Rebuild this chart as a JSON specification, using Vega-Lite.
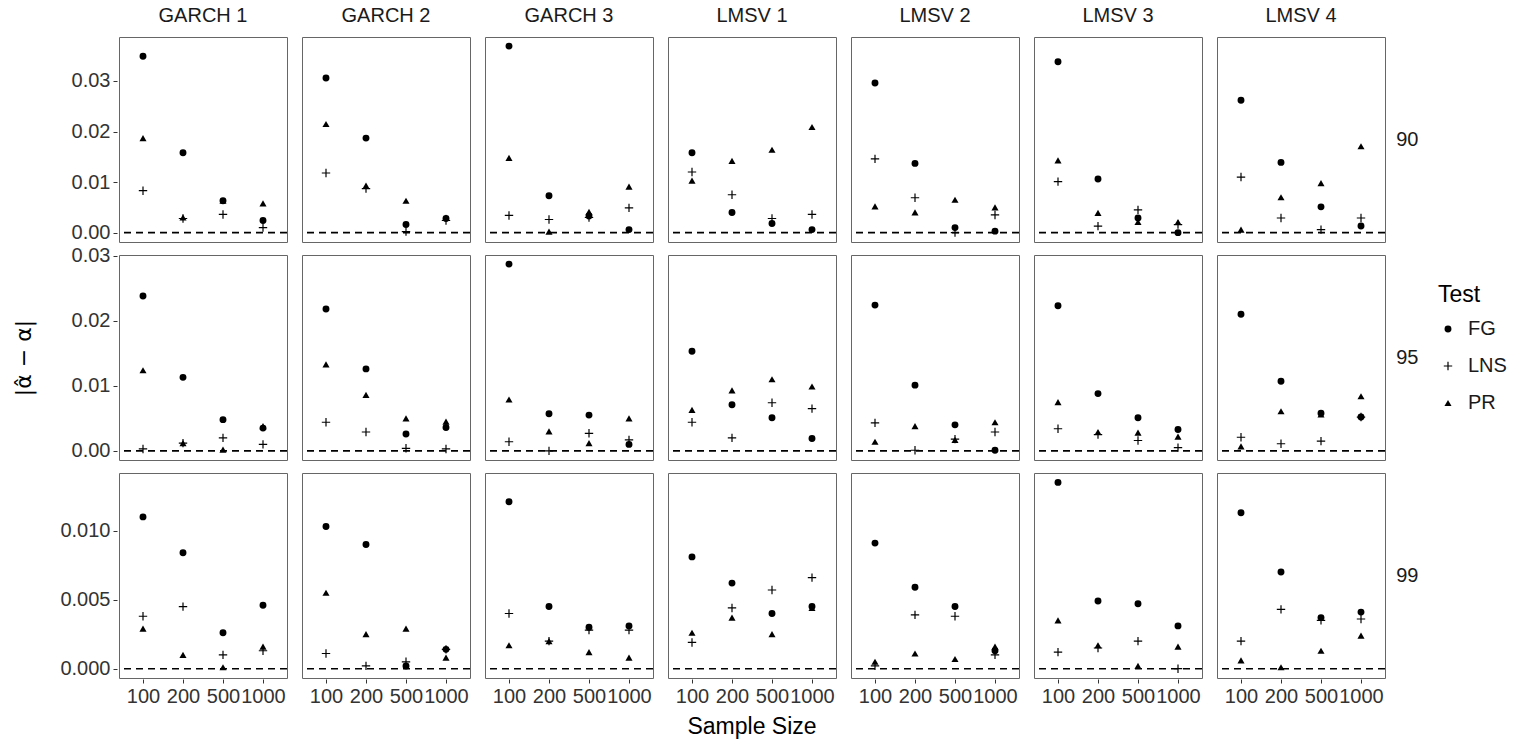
{
  "$schema": "https://vega.github.io/schema/vega-lite/v6.json",
  "padding": {"left": 12, "top": 6, "right": 4, "bottom": 4},
  "data": {
    "values": [
      {"level": "90", "model": "GARCH 1", "n": 100, "test": "FG", "value": 0.0349},
      {"level": "90", "model": "GARCH 1", "n": 200, "test": "FG", "value": 0.0158},
      {"level": "90", "model": "GARCH 1", "n": 500, "test": "FG", "value": 0.0063},
      {"level": "90", "model": "GARCH 1", "n": 1000, "test": "FG", "value": 0.0024},
      {"level": "90", "model": "GARCH 1", "n": 100, "test": "LNS", "value": 0.0083},
      {"level": "90", "model": "GARCH 1", "n": 200, "test": "LNS", "value": 0.0028},
      {"level": "90", "model": "GARCH 1", "n": 500, "test": "LNS", "value": 0.0036},
      {"level": "90", "model": "GARCH 1", "n": 1000, "test": "LNS", "value": 0.0010},
      {"level": "90", "model": "GARCH 1", "n": 100, "test": "PR", "value": 0.0187},
      {"level": "90", "model": "GARCH 1", "n": 200, "test": "PR", "value": 0.0030},
      {"level": "90", "model": "GARCH 1", "n": 500, "test": "PR", "value": 0.0063},
      {"level": "90", "model": "GARCH 1", "n": 1000, "test": "PR", "value": 0.0058},
      {"level": "90", "model": "GARCH 2", "n": 100, "test": "FG", "value": 0.0306},
      {"level": "90", "model": "GARCH 2", "n": 200, "test": "FG", "value": 0.0187},
      {"level": "90", "model": "GARCH 2", "n": 500, "test": "FG", "value": 0.0016},
      {"level": "90", "model": "GARCH 2", "n": 1000, "test": "FG", "value": 0.0028},
      {"level": "90", "model": "GARCH 2", "n": 100, "test": "LNS", "value": 0.0118},
      {"level": "90", "model": "GARCH 2", "n": 200, "test": "LNS", "value": 0.0087},
      {"level": "90", "model": "GARCH 2", "n": 500, "test": "LNS", "value": 0.0002},
      {"level": "90", "model": "GARCH 2", "n": 1000, "test": "LNS", "value": 0.0024},
      {"level": "90", "model": "GARCH 2", "n": 100, "test": "PR", "value": 0.0215},
      {"level": "90", "model": "GARCH 2", "n": 200, "test": "PR", "value": 0.0093},
      {"level": "90", "model": "GARCH 2", "n": 500, "test": "PR", "value": 0.0063},
      {"level": "90", "model": "GARCH 2", "n": 1000, "test": "PR", "value": 0.0030},
      {"level": "90", "model": "GARCH 3", "n": 100, "test": "FG", "value": 0.0369},
      {"level": "90", "model": "GARCH 3", "n": 200, "test": "FG", "value": 0.0073},
      {"level": "90", "model": "GARCH 3", "n": 500, "test": "FG", "value": 0.0033},
      {"level": "90", "model": "GARCH 3", "n": 1000, "test": "FG", "value": 0.0006},
      {"level": "90", "model": "GARCH 3", "n": 100, "test": "LNS", "value": 0.0034},
      {"level": "90", "model": "GARCH 3", "n": 200, "test": "LNS", "value": 0.0026},
      {"level": "90", "model": "GARCH 3", "n": 500, "test": "LNS", "value": 0.0030},
      {"level": "90", "model": "GARCH 3", "n": 1000, "test": "LNS", "value": 0.0049},
      {"level": "90", "model": "GARCH 3", "n": 100, "test": "PR", "value": 0.0148},
      {"level": "90", "model": "GARCH 3", "n": 200, "test": "PR", "value": 0.0002},
      {"level": "90", "model": "GARCH 3", "n": 500, "test": "PR", "value": 0.0041},
      {"level": "90", "model": "GARCH 3", "n": 1000, "test": "PR", "value": 0.0091},
      {"level": "90", "model": "LMSV 1", "n": 100, "test": "FG", "value": 0.0158},
      {"level": "90", "model": "LMSV 1", "n": 200, "test": "FG", "value": 0.0040},
      {"level": "90", "model": "LMSV 1", "n": 500, "test": "FG", "value": 0.0018},
      {"level": "90", "model": "LMSV 1", "n": 1000, "test": "FG", "value": 0.0006},
      {"level": "90", "model": "LMSV 1", "n": 100, "test": "LNS", "value": 0.0120},
      {"level": "90", "model": "LMSV 1", "n": 200, "test": "LNS", "value": 0.0075},
      {"level": "90", "model": "LMSV 1", "n": 500, "test": "LNS", "value": 0.0028},
      {"level": "90", "model": "LMSV 1", "n": 1000, "test": "LNS", "value": 0.0036},
      {"level": "90", "model": "LMSV 1", "n": 100, "test": "PR", "value": 0.0103},
      {"level": "90", "model": "LMSV 1", "n": 200, "test": "PR", "value": 0.0142},
      {"level": "90", "model": "LMSV 1", "n": 500, "test": "PR", "value": 0.0164},
      {"level": "90", "model": "LMSV 1", "n": 1000, "test": "PR", "value": 0.0209},
      {"level": "90", "model": "LMSV 2", "n": 100, "test": "FG", "value": 0.0296},
      {"level": "90", "model": "LMSV 2", "n": 200, "test": "FG", "value": 0.0137},
      {"level": "90", "model": "LMSV 2", "n": 500, "test": "FG", "value": 0.0010},
      {"level": "90", "model": "LMSV 2", "n": 1000, "test": "FG", "value": 0.0003},
      {"level": "90", "model": "LMSV 2", "n": 100, "test": "LNS", "value": 0.0146},
      {"level": "90", "model": "LMSV 2", "n": 200, "test": "LNS", "value": 0.0069},
      {"level": "90", "model": "LMSV 2", "n": 500, "test": "LNS", "value": 0.0000},
      {"level": "90", "model": "LMSV 2", "n": 1000, "test": "LNS", "value": 0.0035},
      {"level": "90", "model": "LMSV 2", "n": 100, "test": "PR", "value": 0.0052},
      {"level": "90", "model": "LMSV 2", "n": 200, "test": "PR", "value": 0.0040},
      {"level": "90", "model": "LMSV 2", "n": 500, "test": "PR", "value": 0.0065},
      {"level": "90", "model": "LMSV 2", "n": 1000, "test": "PR", "value": 0.0050},
      {"level": "90", "model": "LMSV 3", "n": 100, "test": "FG", "value": 0.0338},
      {"level": "90", "model": "LMSV 3", "n": 200, "test": "FG", "value": 0.0106},
      {"level": "90", "model": "LMSV 3", "n": 500, "test": "FG", "value": 0.0029},
      {"level": "90", "model": "LMSV 3", "n": 1000, "test": "FG", "value": 0.0000},
      {"level": "90", "model": "LMSV 3", "n": 100, "test": "LNS", "value": 0.0101},
      {"level": "90", "model": "LMSV 3", "n": 200, "test": "LNS", "value": 0.0013},
      {"level": "90", "model": "LMSV 3", "n": 500, "test": "LNS", "value": 0.0045},
      {"level": "90", "model": "LMSV 3", "n": 1000, "test": "LNS", "value": 0.0016},
      {"level": "90", "model": "LMSV 3", "n": 100, "test": "PR", "value": 0.0143},
      {"level": "90", "model": "LMSV 3", "n": 200, "test": "PR", "value": 0.0039},
      {"level": "90", "model": "LMSV 3", "n": 500, "test": "PR", "value": 0.0021},
      {"level": "90", "model": "LMSV 3", "n": 1000, "test": "PR", "value": 0.0021},
      {"level": "90", "model": "LMSV 4", "n": 100, "test": "FG", "value": 0.0262},
      {"level": "90", "model": "LMSV 4", "n": 200, "test": "FG", "value": 0.0139},
      {"level": "90", "model": "LMSV 4", "n": 500, "test": "FG", "value": 0.0051},
      {"level": "90", "model": "LMSV 4", "n": 1000, "test": "FG", "value": 0.0013},
      {"level": "90", "model": "LMSV 4", "n": 100, "test": "LNS", "value": 0.0110},
      {"level": "90", "model": "LMSV 4", "n": 200, "test": "LNS", "value": 0.0029},
      {"level": "90", "model": "LMSV 4", "n": 500, "test": "LNS", "value": 0.0006},
      {"level": "90", "model": "LMSV 4", "n": 1000, "test": "LNS", "value": 0.0029},
      {"level": "90", "model": "LMSV 4", "n": 100, "test": "PR", "value": 0.0006},
      {"level": "90", "model": "LMSV 4", "n": 200, "test": "PR", "value": 0.0070},
      {"level": "90", "model": "LMSV 4", "n": 500, "test": "PR", "value": 0.0098},
      {"level": "90", "model": "LMSV 4", "n": 1000, "test": "PR", "value": 0.0171},

      {"level": "95", "model": "GARCH 1", "n": 100, "test": "FG", "value": 0.0238},
      {"level": "95", "model": "GARCH 1", "n": 200, "test": "FG", "value": 0.0113},
      {"level": "95", "model": "GARCH 1", "n": 500, "test": "FG", "value": 0.0048},
      {"level": "95", "model": "GARCH 1", "n": 1000, "test": "FG", "value": 0.0035},
      {"level": "95", "model": "GARCH 1", "n": 100, "test": "LNS", "value": 0.0003},
      {"level": "95", "model": "GARCH 1", "n": 200, "test": "LNS", "value": 0.0012},
      {"level": "95", "model": "GARCH 1", "n": 500, "test": "LNS", "value": 0.0020},
      {"level": "95", "model": "GARCH 1", "n": 1000, "test": "LNS", "value": 0.0010},
      {"level": "95", "model": "GARCH 1", "n": 100, "test": "PR", "value": 0.0124},
      {"level": "95", "model": "GARCH 1", "n": 200, "test": "PR", "value": 0.0012},
      {"level": "95", "model": "GARCH 1", "n": 500, "test": "PR", "value": 0.0002},
      {"level": "95", "model": "GARCH 1", "n": 1000, "test": "PR", "value": 0.0038},
      {"level": "95", "model": "GARCH 2", "n": 100, "test": "FG", "value": 0.0218},
      {"level": "95", "model": "GARCH 2", "n": 200, "test": "FG", "value": 0.0126},
      {"level": "95", "model": "GARCH 2", "n": 500, "test": "FG", "value": 0.0026},
      {"level": "95", "model": "GARCH 2", "n": 1000, "test": "FG", "value": 0.0036},
      {"level": "95", "model": "GARCH 2", "n": 100, "test": "LNS", "value": 0.0044},
      {"level": "95", "model": "GARCH 2", "n": 200, "test": "LNS", "value": 0.0029},
      {"level": "95", "model": "GARCH 2", "n": 500, "test": "LNS", "value": 0.0004},
      {"level": "95", "model": "GARCH 2", "n": 1000, "test": "LNS", "value": 0.0003},
      {"level": "95", "model": "GARCH 2", "n": 100, "test": "PR", "value": 0.0133},
      {"level": "95", "model": "GARCH 2", "n": 200, "test": "PR", "value": 0.0086},
      {"level": "95", "model": "GARCH 2", "n": 500, "test": "PR", "value": 0.0050},
      {"level": "95", "model": "GARCH 2", "n": 1000, "test": "PR", "value": 0.0045},
      {"level": "95", "model": "GARCH 3", "n": 100, "test": "FG", "value": 0.0287},
      {"level": "95", "model": "GARCH 3", "n": 200, "test": "FG", "value": 0.0057},
      {"level": "95", "model": "GARCH 3", "n": 500, "test": "FG", "value": 0.0055},
      {"level": "95", "model": "GARCH 3", "n": 1000, "test": "FG", "value": 0.0010},
      {"level": "95", "model": "GARCH 3", "n": 100, "test": "LNS", "value": 0.0014},
      {"level": "95", "model": "GARCH 3", "n": 200, "test": "LNS", "value": 0.0000},
      {"level": "95", "model": "GARCH 3", "n": 500, "test": "LNS", "value": 0.0027},
      {"level": "95", "model": "GARCH 3", "n": 1000, "test": "LNS", "value": 0.0017},
      {"level": "95", "model": "GARCH 3", "n": 100, "test": "PR", "value": 0.0079},
      {"level": "95", "model": "GARCH 3", "n": 200, "test": "PR", "value": 0.0030},
      {"level": "95", "model": "GARCH 3", "n": 500, "test": "PR", "value": 0.0012},
      {"level": "95", "model": "GARCH 3", "n": 1000, "test": "PR", "value": 0.0050},
      {"level": "95", "model": "LMSV 1", "n": 100, "test": "FG", "value": 0.0153},
      {"level": "95", "model": "LMSV 1", "n": 200, "test": "FG", "value": 0.0071},
      {"level": "95", "model": "LMSV 1", "n": 500, "test": "FG", "value": 0.0051},
      {"level": "95", "model": "LMSV 1", "n": 1000, "test": "FG", "value": 0.0019},
      {"level": "95", "model": "LMSV 1", "n": 100, "test": "LNS", "value": 0.0044},
      {"level": "95", "model": "LMSV 1", "n": 200, "test": "LNS", "value": 0.0020},
      {"level": "95", "model": "LMSV 1", "n": 500, "test": "LNS", "value": 0.0074},
      {"level": "95", "model": "LMSV 1", "n": 1000, "test": "LNS", "value": 0.0065},
      {"level": "95", "model": "LMSV 1", "n": 100, "test": "PR", "value": 0.0063},
      {"level": "95", "model": "LMSV 1", "n": 200, "test": "PR", "value": 0.0093},
      {"level": "95", "model": "LMSV 1", "n": 500, "test": "PR", "value": 0.0110},
      {"level": "95", "model": "LMSV 1", "n": 1000, "test": "PR", "value": 0.0099},
      {"level": "95", "model": "LMSV 2", "n": 100, "test": "FG", "value": 0.0224},
      {"level": "95", "model": "LMSV 2", "n": 200, "test": "FG", "value": 0.0101},
      {"level": "95", "model": "LMSV 2", "n": 500, "test": "FG", "value": 0.0040},
      {"level": "95", "model": "LMSV 2", "n": 1000, "test": "FG", "value": 0.0001},
      {"level": "95", "model": "LMSV 2", "n": 100, "test": "LNS", "value": 0.0043},
      {"level": "95", "model": "LMSV 2", "n": 200, "test": "LNS", "value": 0.0001},
      {"level": "95", "model": "LMSV 2", "n": 500, "test": "LNS", "value": 0.0018},
      {"level": "95", "model": "LMSV 2", "n": 1000, "test": "LNS", "value": 0.0029},
      {"level": "95", "model": "LMSV 2", "n": 100, "test": "PR", "value": 0.0014},
      {"level": "95", "model": "LMSV 2", "n": 200, "test": "PR", "value": 0.0038},
      {"level": "95", "model": "LMSV 2", "n": 500, "test": "PR", "value": 0.0017},
      {"level": "95", "model": "LMSV 2", "n": 1000, "test": "PR", "value": 0.0044},
      {"level": "95", "model": "LMSV 3", "n": 100, "test": "FG", "value": 0.0223},
      {"level": "95", "model": "LMSV 3", "n": 200, "test": "FG", "value": 0.0088},
      {"level": "95", "model": "LMSV 3", "n": 500, "test": "FG", "value": 0.0051},
      {"level": "95", "model": "LMSV 3", "n": 1000, "test": "FG", "value": 0.0033},
      {"level": "95", "model": "LMSV 3", "n": 100, "test": "LNS", "value": 0.0034},
      {"level": "95", "model": "LMSV 3", "n": 200, "test": "LNS", "value": 0.0025},
      {"level": "95", "model": "LMSV 3", "n": 500, "test": "LNS", "value": 0.0016},
      {"level": "95", "model": "LMSV 3", "n": 1000, "test": "LNS", "value": 0.0005},
      {"level": "95", "model": "LMSV 3", "n": 100, "test": "PR", "value": 0.0075},
      {"level": "95", "model": "LMSV 3", "n": 200, "test": "PR", "value": 0.0029},
      {"level": "95", "model": "LMSV 3", "n": 500, "test": "PR", "value": 0.0028},
      {"level": "95", "model": "LMSV 3", "n": 1000, "test": "PR", "value": 0.0022},
      {"level": "95", "model": "LMSV 4", "n": 100, "test": "FG", "value": 0.0210},
      {"level": "95", "model": "LMSV 4", "n": 200, "test": "FG", "value": 0.0107},
      {"level": "95", "model": "LMSV 4", "n": 500, "test": "FG", "value": 0.0058},
      {"level": "95", "model": "LMSV 4", "n": 1000, "test": "FG", "value": 0.0052},
      {"level": "95", "model": "LMSV 4", "n": 100, "test": "LNS", "value": 0.0021},
      {"level": "95", "model": "LMSV 4", "n": 200, "test": "LNS", "value": 0.0011},
      {"level": "95", "model": "LMSV 4", "n": 500, "test": "LNS", "value": 0.0015},
      {"level": "95", "model": "LMSV 4", "n": 1000, "test": "LNS", "value": 0.0052},
      {"level": "95", "model": "LMSV 4", "n": 100, "test": "PR", "value": 0.0007},
      {"level": "95", "model": "LMSV 4", "n": 200, "test": "PR", "value": 0.0061},
      {"level": "95", "model": "LMSV 4", "n": 500, "test": "PR", "value": 0.0056},
      {"level": "95", "model": "LMSV 4", "n": 1000, "test": "PR", "value": 0.0084},

      {"level": "99", "model": "GARCH 1", "n": 100, "test": "FG", "value": 0.0110},
      {"level": "99", "model": "GARCH 1", "n": 200, "test": "FG", "value": 0.0084},
      {"level": "99", "model": "GARCH 1", "n": 500, "test": "FG", "value": 0.0026},
      {"level": "99", "model": "GARCH 1", "n": 1000, "test": "FG", "value": 0.0046},
      {"level": "99", "model": "GARCH 1", "n": 100, "test": "LNS", "value": 0.0038},
      {"level": "99", "model": "GARCH 1", "n": 200, "test": "LNS", "value": 0.0045},
      {"level": "99", "model": "GARCH 1", "n": 500, "test": "LNS", "value": 0.0010},
      {"level": "99", "model": "GARCH 1", "n": 1000, "test": "LNS", "value": 0.0013},
      {"level": "99", "model": "GARCH 1", "n": 100, "test": "PR", "value": 0.0029},
      {"level": "99", "model": "GARCH 1", "n": 200, "test": "PR", "value": 0.0010},
      {"level": "99", "model": "GARCH 1", "n": 500, "test": "PR", "value": 0.0001},
      {"level": "99", "model": "GARCH 1", "n": 1000, "test": "PR", "value": 0.0016},
      {"level": "99", "model": "GARCH 2", "n": 100, "test": "FG", "value": 0.0103},
      {"level": "99", "model": "GARCH 2", "n": 200, "test": "FG", "value": 0.0090},
      {"level": "99", "model": "GARCH 2", "n": 500, "test": "FG", "value": 0.0002},
      {"level": "99", "model": "GARCH 2", "n": 1000, "test": "FG", "value": 0.0014},
      {"level": "99", "model": "GARCH 2", "n": 100, "test": "LNS", "value": 0.0011},
      {"level": "99", "model": "GARCH 2", "n": 200, "test": "LNS", "value": 0.0002},
      {"level": "99", "model": "GARCH 2", "n": 500, "test": "LNS", "value": 0.0005},
      {"level": "99", "model": "GARCH 2", "n": 1000, "test": "LNS", "value": 0.0014},
      {"level": "99", "model": "GARCH 2", "n": 100, "test": "PR", "value": 0.0055},
      {"level": "99", "model": "GARCH 2", "n": 200, "test": "PR", "value": 0.0025},
      {"level": "99", "model": "GARCH 2", "n": 500, "test": "PR", "value": 0.0029},
      {"level": "99", "model": "GARCH 2", "n": 1000, "test": "PR", "value": 0.0008},
      {"level": "99", "model": "GARCH 3", "n": 100, "test": "FG", "value": 0.0121},
      {"level": "99", "model": "GARCH 3", "n": 200, "test": "FG", "value": 0.0045},
      {"level": "99", "model": "GARCH 3", "n": 500, "test": "FG", "value": 0.0030},
      {"level": "99", "model": "GARCH 3", "n": 1000, "test": "FG", "value": 0.0031},
      {"level": "99", "model": "GARCH 3", "n": 100, "test": "LNS", "value": 0.0040},
      {"level": "99", "model": "GARCH 3", "n": 200, "test": "LNS", "value": 0.0020},
      {"level": "99", "model": "GARCH 3", "n": 500, "test": "LNS", "value": 0.0028},
      {"level": "99", "model": "GARCH 3", "n": 1000, "test": "LNS", "value": 0.0028},
      {"level": "99", "model": "GARCH 3", "n": 100, "test": "PR", "value": 0.0017},
      {"level": "99", "model": "GARCH 3", "n": 200, "test": "PR", "value": 0.0020},
      {"level": "99", "model": "GARCH 3", "n": 500, "test": "PR", "value": 0.0012},
      {"level": "99", "model": "GARCH 3", "n": 1000, "test": "PR", "value": 0.0008},
      {"level": "99", "model": "LMSV 1", "n": 100, "test": "FG", "value": 0.0081},
      {"level": "99", "model": "LMSV 1", "n": 200, "test": "FG", "value": 0.0062},
      {"level": "99", "model": "LMSV 1", "n": 500, "test": "FG", "value": 0.0040},
      {"level": "99", "model": "LMSV 1", "n": 1000, "test": "FG", "value": 0.0045},
      {"level": "99", "model": "LMSV 1", "n": 100, "test": "LNS", "value": 0.0019},
      {"level": "99", "model": "LMSV 1", "n": 200, "test": "LNS", "value": 0.0044},
      {"level": "99", "model": "LMSV 1", "n": 500, "test": "LNS", "value": 0.0057},
      {"level": "99", "model": "LMSV 1", "n": 1000, "test": "LNS", "value": 0.0066},
      {"level": "99", "model": "LMSV 1", "n": 100, "test": "PR", "value": 0.0026},
      {"level": "99", "model": "LMSV 1", "n": 200, "test": "PR", "value": 0.0037},
      {"level": "99", "model": "LMSV 1", "n": 500, "test": "PR", "value": 0.0025},
      {"level": "99", "model": "LMSV 1", "n": 1000, "test": "PR", "value": 0.0044},
      {"level": "99", "model": "LMSV 2", "n": 100, "test": "FG", "value": 0.0091},
      {"level": "99", "model": "LMSV 2", "n": 200, "test": "FG", "value": 0.0059},
      {"level": "99", "model": "LMSV 2", "n": 500, "test": "FG", "value": 0.0045},
      {"level": "99", "model": "LMSV 2", "n": 1000, "test": "FG", "value": 0.0013},
      {"level": "99", "model": "LMSV 2", "n": 100, "test": "LNS", "value": 0.0002},
      {"level": "99", "model": "LMSV 2", "n": 200, "test": "LNS", "value": 0.0039},
      {"level": "99", "model": "LMSV 2", "n": 500, "test": "LNS", "value": 0.0038},
      {"level": "99", "model": "LMSV 2", "n": 1000, "test": "LNS", "value": 0.0010},
      {"level": "99", "model": "LMSV 2", "n": 100, "test": "PR", "value": 0.0005},
      {"level": "99", "model": "LMSV 2", "n": 200, "test": "PR", "value": 0.0011},
      {"level": "99", "model": "LMSV 2", "n": 500, "test": "PR", "value": 0.0007},
      {"level": "99", "model": "LMSV 2", "n": 1000, "test": "PR", "value": 0.0016},
      {"level": "99", "model": "LMSV 3", "n": 100, "test": "FG", "value": 0.0135},
      {"level": "99", "model": "LMSV 3", "n": 200, "test": "FG", "value": 0.0049},
      {"level": "99", "model": "LMSV 3", "n": 500, "test": "FG", "value": 0.0047},
      {"level": "99", "model": "LMSV 3", "n": 1000, "test": "FG", "value": 0.0031},
      {"level": "99", "model": "LMSV 3", "n": 100, "test": "LNS", "value": 0.0012},
      {"level": "99", "model": "LMSV 3", "n": 200, "test": "LNS", "value": 0.0015},
      {"level": "99", "model": "LMSV 3", "n": 500, "test": "LNS", "value": 0.0020},
      {"level": "99", "model": "LMSV 3", "n": 1000, "test": "LNS", "value": 0.0000},
      {"level": "99", "model": "LMSV 3", "n": 100, "test": "PR", "value": 0.0035},
      {"level": "99", "model": "LMSV 3", "n": 200, "test": "PR", "value": 0.0017},
      {"level": "99", "model": "LMSV 3", "n": 500, "test": "PR", "value": 0.0002},
      {"level": "99", "model": "LMSV 3", "n": 1000, "test": "PR", "value": 0.0016},
      {"level": "99", "model": "LMSV 4", "n": 100, "test": "FG", "value": 0.0113},
      {"level": "99", "model": "LMSV 4", "n": 200, "test": "FG", "value": 0.0070},
      {"level": "99", "model": "LMSV 4", "n": 500, "test": "FG", "value": 0.0037},
      {"level": "99", "model": "LMSV 4", "n": 1000, "test": "FG", "value": 0.0041},
      {"level": "99", "model": "LMSV 4", "n": 100, "test": "LNS", "value": 0.0020},
      {"level": "99", "model": "LMSV 4", "n": 200, "test": "LNS", "value": 0.0043},
      {"level": "99", "model": "LMSV 4", "n": 500, "test": "LNS", "value": 0.0035},
      {"level": "99", "model": "LMSV 4", "n": 1000, "test": "LNS", "value": 0.0036},
      {"level": "99", "model": "LMSV 4", "n": 100, "test": "PR", "value": 0.0006},
      {"level": "99", "model": "LMSV 4", "n": 200, "test": "PR", "value": 0.0001},
      {"level": "99", "model": "LMSV 4", "n": 500, "test": "PR", "value": 0.0013},
      {"level": "99", "model": "LMSV 4", "n": 1000, "test": "PR", "value": 0.0024}
    ]
  },
  "spacing": 2,
  "vconcat": [
    {
      "transform": [{"filter": "datum.level == '90'"}],
      "facet": {
        "row": {"field": "level", "type": "nominal", "title": null,
          "header": {"labelOrient": "right", "labelAngle": 0, "labelAlign": "left", "labelFontSize": 20, "labelPadding": -13, "labelColor": "#1a1a1a"}},
        "column": {"field": "model", "type": "nominal", "title": null,
          "header": {"labelFontSize": 20, "labelPadding": 10, "labelColor": "#1a1a1a"}}
      },
      "spacing": {"row": 14, "column": 11},
      "spec": {
        "width": 168,
        "height": 205,
        "layer": [
          {
            "mark": {"type": "point", "filled": true, "color": "black", "opacity": 1},
            "encoding": {
              "x": {"field": "n", "type": "ordinal", "scale": {"type": "point", "padding": 0.6}, "axis": null},
              "y": {"field": "value", "type": "quantitative",
                "scale": {"domain": [-0.00185, 0.0387], "nice": false, "zero": false},
                "axis": {"values": [0, 0.01, 0.02, 0.03], "format": ".2f", "title": " ", "minExtent": 60, "maxExtent": 60, "titlePadding": 22}},
              "shape": {"field": "test", "type": "nominal", "title": "Test",
                "scale": {"domain": ["FG", "LNS", "PR"], "range": ["circle", "M-1.2,-0.17L-0.17,-0.17L-0.17,-1.2L0.17,-1.2L0.17,-0.17L1.2,-0.17L1.2,0.17L0.17,0.17L0.17,1.2L-0.17,1.2L-0.17,0.17L-1.2,0.17Z", "triangle-up"]},
                "legend": {"orient": "none", "legendX": 1319, "legendY": 247}},
              "size": {"field": "test", "type": "nominal", "title": "Test",
                "scale": {"domain": ["FG", "LNS", "PR"], "range": [48, 50, 70]},
                "legend": {"orient": "none", "legendX": 1319, "legendY": 247}}
            }
          },
          {
            "transform": [{"filter": "datum.n == 100 && datum.test == 'FG'"}],
            "mark": {"type": "rule", "strokeDash": [7, 5], "strokeWidth": 1.6, "color": "black"},
            "encoding": {"y": {"datum": 0, "type": "quantitative"}}
          }
        ]
      }
    },
    {
      "transform": [{"filter": "datum.level == '95'"}],
      "facet": {
        "row": {"field": "level", "type": "nominal", "title": null,
          "header": {"labelOrient": "right", "labelAngle": 0, "labelAlign": "left", "labelFontSize": 20, "labelPadding": -13, "labelColor": "#1a1a1a"}},
        "column": {"field": "model", "type": "nominal", "title": null, "header": {"labels": false}}
      },
      "spacing": {"row": 14, "column": 11},
      "spec": {
        "width": 168,
        "height": 205,
        "layer": [
          {
            "mark": {"type": "point", "filled": true, "color": "black", "opacity": 1},
            "encoding": {
              "x": {"field": "n", "type": "ordinal", "scale": {"type": "point", "padding": 0.6},
                "axis": {"labels": false, "ticks": false, "title": " ", "titleFontSize": 9, "titlePadding": 0}},
              "y": {"field": "value", "type": "quantitative",
                "scale": {"domain": [-0.0014, 0.0301], "nice": false, "zero": false},
                "axis": {"values": [0, 0.01, 0.02, 0.03], "format": ".2f", "title": "|α̂ − α|", "titleFont": "DejaVu Sans", "titleFontSize": 22, "minExtent": 60, "maxExtent": 60, "titlePadding": 22}},
              "shape": {"field": "test", "type": "nominal", "title": "Test",
                "scale": {"domain": ["FG", "LNS", "PR"], "range": ["circle", "M-1.2,-0.17L-0.17,-0.17L-0.17,-1.2L0.17,-1.2L0.17,-0.17L1.2,-0.17L1.2,0.17L0.17,0.17L0.17,1.2L-0.17,1.2L-0.17,0.17L-1.2,0.17Z", "triangle-up"]},
                "legend": {"orient": "none", "legendX": 1319, "legendY": 247}},
              "size": {"field": "test", "type": "nominal", "title": "Test",
                "scale": {"domain": ["FG", "LNS", "PR"], "range": [48, 50, 70]},
                "legend": {"orient": "none", "legendX": 1319, "legendY": 247}}
            }
          },
          {
            "transform": [{"filter": "datum.n == 100 && datum.test == 'FG'"}],
            "mark": {"type": "rule", "strokeDash": [7, 5], "strokeWidth": 1.6, "color": "black"},
            "encoding": {"y": {"datum": 0, "type": "quantitative"}}
          }
        ]
      }
    },
    {
      "transform": [{"filter": "datum.level == '99'"}],
      "facet": {
        "row": {"field": "level", "type": "nominal", "title": null,
          "header": {"labelOrient": "right", "labelAngle": 0, "labelAlign": "left", "labelFontSize": 20, "labelPadding": -13, "labelColor": "#1a1a1a"}},
        "column": {"field": "model", "type": "nominal", "title": "Sample Size",
          "header": {"labels": false, "titleOrient": "bottom", "titleFontSize": 23, "titleFontWeight": "normal", "titleColor": "#000000", "titlePadding": 0}}
      },
      "spacing": {"row": 14, "column": 11},
      "spec": {
        "width": 168,
        "height": 205,
        "layer": [
          {
            "mark": {"type": "point", "filled": true, "color": "black", "opacity": 1},
            "encoding": {
              "x": {"field": "n", "type": "ordinal", "scale": {"type": "point", "padding": 0.6},
                "axis": {"title": null, "labelAngle": 0, "labelOverlap": false, "labelFlush": false, "labelPadding": 3}},
              "y": {"field": "value", "type": "quantitative",
                "scale": {"domain": [-0.000675, 0.01418], "nice": false, "zero": false},
                "axis": {"values": [0, 0.005, 0.01], "format": ".3f", "title": " ", "minExtent": 60, "maxExtent": 60, "titlePadding": 22}},
              "shape": {"field": "test", "type": "nominal", "title": "Test",
                "scale": {"domain": ["FG", "LNS", "PR"], "range": ["circle", "M-1.2,-0.17L-0.17,-0.17L-0.17,-1.2L0.17,-1.2L0.17,-0.17L1.2,-0.17L1.2,0.17L0.17,0.17L0.17,1.2L-0.17,1.2L-0.17,0.17L-1.2,0.17Z", "triangle-up"]},
                "legend": {"orient": "none", "legendX": 1319, "legendY": 247}},
              "size": {"field": "test", "type": "nominal", "title": "Test",
                "scale": {"domain": ["FG", "LNS", "PR"], "range": [48, 50, 70]},
                "legend": {"orient": "none", "legendX": 1319, "legendY": 247}}
            }
          },
          {
            "transform": [{"filter": "datum.n == 100 && datum.test == 'FG'"}],
            "mark": {"type": "rule", "strokeDash": [7, 5], "strokeWidth": 1.6, "color": "black"},
            "encoding": {"y": {"datum": 0, "type": "quantitative"}}
          }
        ]
      }
    }
  ],
  "config": {
    "font": "Liberation Sans",
    "view": {"stroke": "#666666", "strokeWidth": 1},
    "axis": {"grid": false, "domain": false, "tickColor": "#333333", "tickSize": 4, "labelColor": "#333333", "labelFontSize": 20, "labelPadding": 3, "titleFontSize": 23, "titleFontWeight": "normal", "titleColor": "#000000"},
    "header": {"labelFont": "Liberation Sans", "titleFont": "Liberation Sans"},
    "legend": {"titleFontSize": 23, "titleFontWeight": "normal", "titleColor": "#000000", "labelFontSize": 20, "labelColor": "#1a1a1a", "rowPadding": 17, "symbolOpacity": 1, "titlePadding": 12, "labelOffset": 10}
  }
}
